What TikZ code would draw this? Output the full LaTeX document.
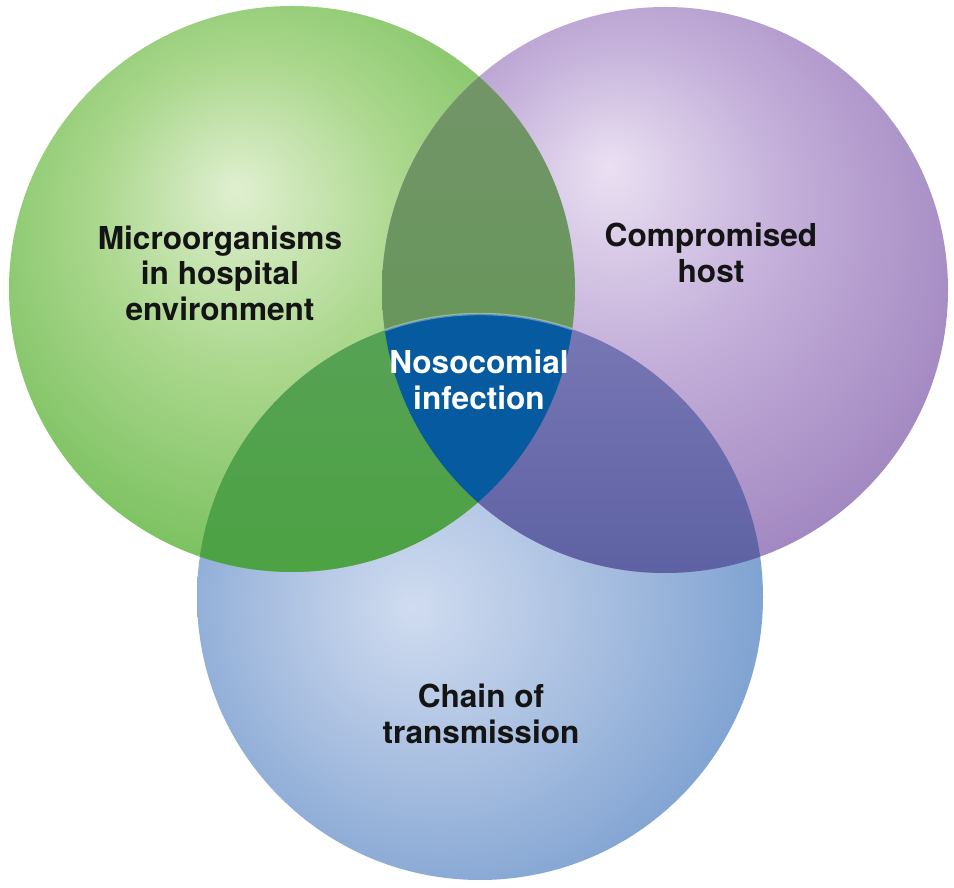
\documentclass[tikz,border=0pt]{standalone}
\usepackage{fontspec}
\setmainfont{TeX Gyre Heros}
\definecolor{gA}{RGB}{224,239,208}
\definecolor{gB}{RGB}{170,215,140}
\definecolor{gC}{RGB}{112,188,86}
\definecolor{pA}{RGB}{234,224,242}
\definecolor{pB}{RGB}{196,176,218}
\definecolor{pC}{RGB}{156,128,188}
\definecolor{bA}{RGB}{208,220,240}
\definecolor{bB}{RGB}{170,192,225}
\definecolor{bC}{RGB}{118,156,206}
\definecolor{gpTop}{RGB}{118,148,108}
\definecolor{gpBot}{RGB}{92,152,78}
\definecolor{gbTop}{RGB}{88,162,88}
\definecolor{gbBot}{RGB}{76,162,66}
\definecolor{pbTop}{RGB}{124,122,184}
\definecolor{pbBot}{RGB}{92,96,162}
\definecolor{core}{RGB}{6,90,160}
\definecolor{txt}{RGB}{20,20,20}
\pgfdeclareradialshading{greensh}{\pgfpoint{-5bp}{9bp}}{color(0bp)=(gA); color(14bp)=(gB); color(32bp)=(gC); color(50bp)=(gC)}
\pgfdeclareradialshading{purplesh}{\pgfpoint{-5bp}{11bp}}{color(0bp)=(pA); color(14bp)=(pB); color(33bp)=(pC); color(50bp)=(pC)}
\pgfdeclareradialshading{bluesh}{\pgfpoint{-6bp}{-1bp}}{color(0bp)=(bA); color(14bp)=(bB); color(31bp)=(bC); color(50bp)=(bC)}
\begin{document}
\begin{tikzpicture}[x=0.5pt,y=0.5pt,
  lbl/.style={font=\fontsize{15.8}{17.8}\selectfont\bfseries, text=txt, align=center, inner sep=0pt},
  corelbl/.style={lbl, text=white}]
\useasboundingbox (0,0) rectangle (954,888);
\fill[white] (0,0) rectangle (954,888);
\def\R{141.5pt}
\coordinate (G) at (292,599);
\coordinate (P) at (665,598);
\coordinate (B) at (480,291);
% base circles
\shade[shading=bluesh] (B) circle[radius=\R];
\shade[shading=greensh] (G) circle[radius=\R];
\shade[shading=purplesh] (P) circle[radius=\R];
% green-purple overlap
\begin{scope}
  \clip (G) circle[radius=\R];
  \clip (P) circle[radius=\R];
  \shade[top color=gpTop, bottom color=gpBot] (360,300) rectangle (600,888);
\end{scope}
% green-blue overlap
\begin{scope}
  \clip (G) circle[radius=\R];
  \clip (B) circle[radius=\R];
  \shade[top color=gbTop, bottom color=gbBot] (190,300) rectangle (500,600);
\end{scope}
% purple-blue overlap
\begin{scope}
  \clip (P) circle[radius=\R];
  \clip (B) circle[radius=\R];
  \shade[top color=pbTop, bottom color=pbBot] (460,300) rectangle (780,600);
\end{scope}
% core
\begin{scope}
  \clip (G) circle[radius=\R];
  \clip (P) circle[radius=\R];
  \fill[core] (B) circle[radius=\R];
  \draw[white, opacity=0.35, line width=1.2pt] (B) circle[radius=\R];
\end{scope}
% labels
\node[lbl] (micro) at (220,615) {Microorganisms\\in hospital\\environment};
\node[lbl] (host) at (711,635) {Compromised\\host};
\node[lbl] (chain) at (481,174) {Chain of\\transmission};
\node[corelbl] (noso) at (479,508) {Nosocomial\\infection};
\end{tikzpicture}
\end{document}
